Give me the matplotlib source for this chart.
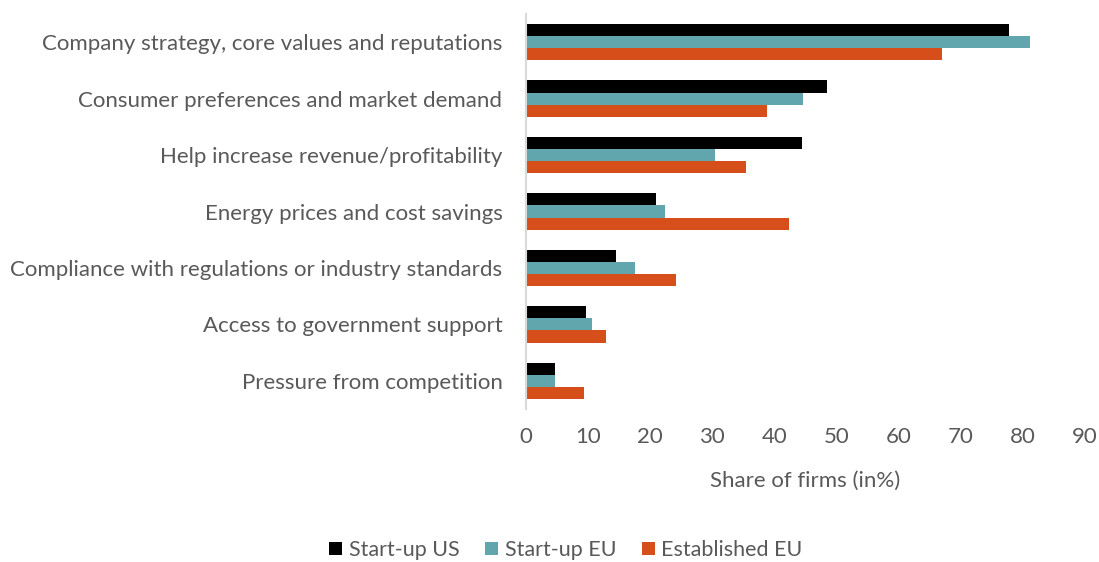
import matplotlib
matplotlib.use("Agg")
import matplotlib.pyplot as plt
import numpy as np

categories = [
    "Company strategy, core values and reputations",
    "Consumer preferences and market demand",
    "Help increase revenue/profitability",
    "Energy prices and cost savings",
    "Compliance with regulations or industry standards",
    "Access to government support",
    "Pressure from competition",
]
startup_us = [77.7, 48.5, 44.5, 21.0, 14.5, 9.6, 4.7]
startup_eu = [81.1, 44.6, 30.4, 22.3, 17.5, 10.7, 4.6]
established_eu = [66.9, 38.8, 35.5, 42.3, 24.1, 12.9, 9.4]
series_names = ["Start-up US", "Start-up EU", "Established EU"]
colors = ["#000000", "#61a5ad", "#d64f1a"]
xticks = [0, 10, 20, 30, 40, 50, 60, 70, 80, 90]

plt.rcParams['font.family'] = ['Lato', 'DejaVu Sans']
grey = "#595959"
fs = 16

fig = plt.figure(figsize=(10.99, 5.62), dpi=100)
ax = fig.add_axes([526/1099, 1-409/562, (1085-526)/1099, (409-14)/562])

y = np.arange(len(categories))
h = 0.215
for i, (vals, name, c) in enumerate(zip([startup_us, startup_eu, established_eu], series_names, colors)):
    ax.barh(y + (i - 1) * h, vals, height=h, color=c, label=name)

ax.set_ylim(len(categories) - 0.5, -0.5)
ax.set_xlim(0, 90)
ax.set_xticks(xticks)
ax.set_yticks(y)
ax.set_yticklabels(categories, fontsize=fs, color=grey)
ax.tick_params(axis='x', labelsize=fs, colors=grey, length=0, pad=13)
ax.tick_params(axis='y', length=0, pad=17)
for s in ['top', 'right', 'bottom']:
    ax.spines[s].set_visible(False)
ax.spines['left'].set_color('#d9d9d9')
ax.spines['left'].set_linewidth(1.5)
ax.set_xlabel("Share of firms (in%)", fontsize=fs, color=grey, labelpad=17)

ax.legend(loc='center', bbox_to_anchor=(566/1099, 1-550/562), bbox_transform=fig.transFigure,
          ncol=3, frameon=False, fontsize=15.5, handlelength=0.6, handleheight=0.6,
          handletextpad=0.3, columnspacing=1.2, labelcolor=grey)

fig.savefig("out.png", dpi=100)
